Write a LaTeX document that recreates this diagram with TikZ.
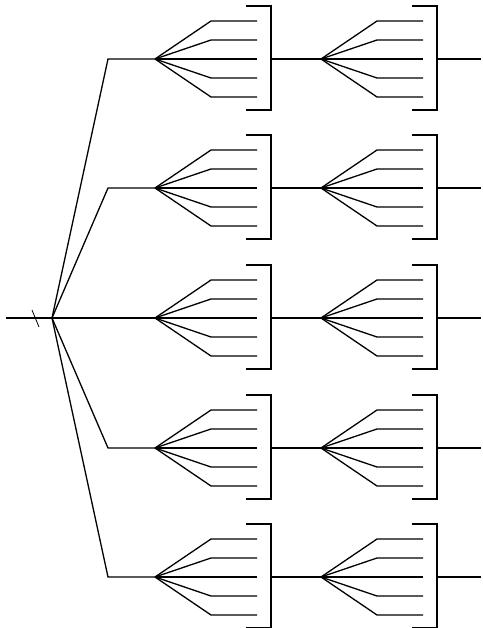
\documentclass[tikz,border=0pt]{standalone}
\usepackage{tikz}
\usetikzlibrary{calc}
\tikzset{
  wire/.style={
    line width=1.3pt,
    line join=miter,
  },
  every picture/.style = {
    x=1pt, y=-1pt
  }
}
\tikzset{
  fan/.pic={
    \coordinate (-in) at (0,0);
    \draw[wire] (0,0)--(56,-38)--(102,-38);
    \draw[wire] (0,0)--(56,-19)--(102,-19);
    \draw[wire] (0,0)--(102,0);
    \draw[wire] (0,0)--(56,19)--(102,19);
    \draw[wire] (0,0)--(56,38)--(102,38);
    % bracket
    \draw[wire] (91,-53)--(116,-53)--(116,51)--(91,51);
    \coordinate (-out) at (116,0);
  }
}
\begin{document}
\begin{tikzpicture}
    \useasboundingbox (0,0) rectangle (482,628);
        \coordinate (start) at (6,318);
        \coordinate (root) at (52,318);
        \draw[line width=0.8pt] (32,310)--(39,327);
        \draw[wire] (start)--(root);
        %% first column
        \pic (fa) at (155,59) {fan};
        \pic (fb) at (155,188) {fan};
        \pic (fc) at (155,318) {fan};
        \pic (fd) at (155,448) {fan};
        \pic (fe) at (155,577) {fan};
        %% second column
        \pic (ga) at (321,59) {fan};
        \pic (gb) at (321,188) {fan};
        \pic (gc) at (321,318) {fan};
        \pic (gd) at (321,448) {fan};
        \pic (ge) at (321,577) {fan};
        %% corners of the tree
        \coordinate (ka) at (108,59);
        \coordinate (kb) at (108,188);
        \coordinate (kd) at (108,448);
        \coordinate (ke) at (108,577);
        \draw[wire] (root)--(ka)--(fa-in);
        \draw[wire] (root)--(kb)--(fb-in);
        \draw[wire] (root)--(fc-in);
        \draw[wire] (root)--(kd)--(fd-in);
        \draw[wire] (root)--(ke)--(fe-in);
        \draw[wire] (fa-out)--(ga-in);
        \draw[wire] (fb-out)--(gb-in);
        \draw[wire] (fc-out)--(gc-in);
        \draw[wire] (fd-out)--(gd-in);
        \draw[wire] (fe-out)--(ge-in);
        %% loose ends
        \coordinate (ea) at (481,59);
        \coordinate (eb) at (481,188);
        \coordinate (ec) at (481,318);
        \coordinate (ed) at (481,448);
        \coordinate (ee) at (481,577);
        \draw[wire] (ga-out)--(ea);
        \draw[wire] (gb-out)--(eb);
        \draw[wire] (gc-out)--(ec);
        \draw[wire] (gd-out)--(ed);
        \draw[wire] (ge-out)--(ee);
    \end{tikzpicture}
\end{document}
